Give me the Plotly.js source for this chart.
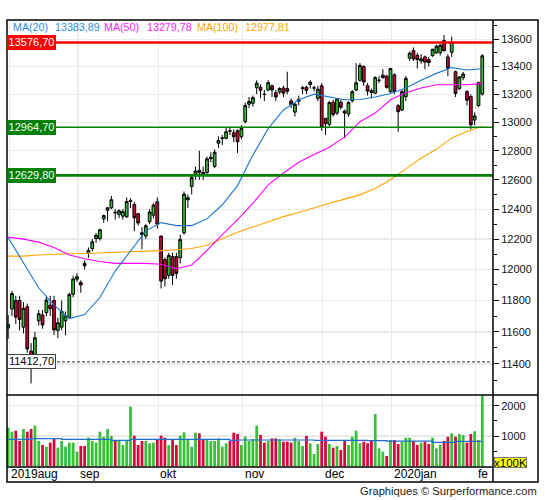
<!DOCTYPE html>
<html><head><meta charset="utf-8">
<script src="https://cdn.plot.ly/plotly-3.0.1.min.js"></script>
<style>html,body{margin:0;padding:0;background:#fff}#chart{width:545px;height:500px}</style>
</head><body><div id="chart"></div>
<script>
// ---- trading days (categories) ----
const tradingDays = {
  "2019-08": [7,8,9,12,13,14,15,16,19,20,21,22,23,26,27,28,29,30],
  "2019-09": [2,3,4,5,6,9,10,11,12,13,16,17,18,19,20,23,24,25,26,27,30],
  "2019-10": [1,2,4,7,8,9,10,11,14,15,16,17,18,21,22,23,24,25,28,29,30,31],
  "2019-11": [1,4,5,6,7,8,11,12,13,14,15,18,19,20,21,22,25,26,27,28,29],
  "2019-12": [2,3,4,5,6,9,10,11,12,13,16,17,18,19,20,23,27,30],
  "2020-01": [2,3,6,7,8,9,10,13,14,15,16,17,20,21,22,23,24,27,28,29,30,31],
  "2020-02": [3,4,5]
};
const monthLabels = ["2019aug","sep","okt","nov","dec","2020jan","fe"];

// ---- OHLC ----
const open = [11625,11745,11800,11800,11630,11760,11480,11450,11670,11707,11722,11770,11800,11610,11630,11670,11693,11840,
 11937,11916,12040,12105,12138,12204,12203,12335,12393,12409,12380,12365,12353,12349,12452,12432,12370,12242,12220,12316,12360,
 12450,12220,12066,11962,12085,12085,12077,12242,12464,12555,12638,12665,12650,12650,12745,12692,12853,12885,12887,12940,12926,12940,
 12898,13005,13128,13135,13247,13250,13200,13230,13260,13210,13215,13245,13240,13152,13072,13150,13240,13250,13270,13245,13170,
 13260,13028,12986,13143,13065,13143,13080,13058,13152,13230,13300,13399,13260,13225,13207,13300,13320,13330,
 13218,13340,13118,13087,13182,13461,13516,13480,13440,13470,13450,13480,13500,13500,13590,13470,13504,13362,13240,13320,13218,13183,
 13016,13118,13201];
const high = [11707,11862,11830,11830,11790,11780,11530,11600,11740,11740,11830,11830,11830,11690,11800,11730,11850,11960,
 11975,11930,12060,12145,12200,12242,12270,12364,12416,12490,12400,12400,12400,12480,12475,12450,12375,12280,12300,12400,12440,
 12480,12225,12080,12110,12110,12110,12230,12520,12500,12640,12690,12800,12690,12760,12790,12810,12900,12910,12960,12970,12950,12950,
 12980,13140,13180,13190,13300,13270,13230,13300,13270,13230,13250,13260,13362,13170,13140,13190,13260,13260,13300,13260,13260,
 13280,13030,13150,13160,13170,13160,13090,13150,13230,13425,13425,13410,13280,13240,13330,13330,13380,13340,
 13390,13350,13130,13230,13330,13510,13540,13500,13490,13480,13470,13530,13560,13570,13632,13490,13620,13370,13330,13360,13230,13200,
 13070,13290,13490];
const low = [11556,11700,11650,11610,11590,11470,11280,11420,11640,11620,11700,11700,11580,11560,11610,11580,11690,11820,
 11920,11850,12000,12077,12120,12175,12190,12308,12320,12400,12330,12340,12330,12340,12408,12253,12290,12132,12200,12300,12340,
 12270,11877,11890,11940,11900,11940,12040,12230,12408,12500,12600,12600,12600,12640,12720,12680,12820,12840,12880,12910,12860,12785,
 12880,12990,13100,13110,13200,13170,13150,13220,13180,13150,13200,13180,13200,13100,13040,13120,13200,13200,13240,13220,13150,
 12940,12911,12970,13040,13050,13090,12887,13040,13140,13220,13290,13260,13190,13170,13200,13280,13310,13240,
 13210,13200,12933,13080,13150,13440,13440,13386,13420,13380,13400,13470,13490,13480,13510,13330,13470,13180,13230,13300,13120,12950,
 12980,13110,13190];
const close = [11645,11845,11694,11679,11750,11493,11413,11563,11715,11644,11802,11747,11612,11658,11730,11701,11838,11939,
 11953,11900,12025,12126,12182,12226,12262,12357,12409,12464,12376,12389,12384,12452,12457,12342,12307,12230,12289,12381,12428,
 12300,11925,11940,12092,11962,11975,12197,12502,12478,12615,12660,12650,12633,12744,12754,12790,12871,12890,12933,12938,12898,12863,
 12957,13118,13147,13175,13279,13228,13198,13283,13230,13180,13241,13207,13221,13127,13128,13163,13246,13227,13287,13245,13236,
 12965,12989,13140,13055,13166,13106,13065,13141,13218,13282,13407,13288,13222,13212,13319,13300,13337,13249,
 13385,13219,13075,13218,13314,13497,13454,13451,13456,13432,13429,13526,13548,13556,13515,13388,13576.7,13205,13324,13345,13157,12982,
 13045,13282,13478];

// ---- volume (x100K) ----
const volume = [1275,1143,1176,835,1231,1143,1231,1341,835,703,648,780,901,615,835,648,780,780,
 483,670,670,945,835,780,1143,978,1231,1000,835,835,703,835,1968,1011,703,835,835,758,780,
 890,1011,945,703,868,703,1011,1121,868,648,1110,1088,890,868,835,835,923,648,758,835,1110,1066,
 703,978,835,901,1341,1033,780,835,923,923,890,813,813,780,945,835,670,1000,758,406,736,
 1143,978,736,615,670,538,835,703,978,1176,758,813,758,868,1726,593,483,340,
 868,868,736,813,945,945,835,703,780,813,736,945,593,703,835,978,1088,978,1066,1033,780,1066,
 1154,868,2343];
const volumeAvg = [890,890,890,890,890,890,915,915,915,915,915,915,915,915,890,890,890,890,
 890,890,890,890,890,890,890,890,890,857,857,857,857,857,890,890,890,890,890,890,890,
 890,890,890,890,890,890,890,890,890,890,890,890,890,890,890,890,890,890,890,857,857,868,
 868,868,868,868,868,868,868,868,868,868,868,868,868,868,868,868,868,868,868,857,857,
 857,857,857,857,857,857,857,857,857,857,857,857,850,850,850,850,850,830,
 830,830,830,830,830,830,830,830,830,830,830,790,790,790,790,790,790,820,820,820,820,820,
 820,820,820];

// ---- moving averages (read every 4 sessions) ----
const maIndex = [0,4,8,12,16,20,24,28,32,36,40,44,48,52,56,60,64,68,72,76,80,84,88,92,96,100,104,108,112,116,120,124];
const ma20  = [12210,12040,11880,11770,11684,11710,11819,11990,12125,12255,12310,12290,12290,12335,12430,12560,12770,12955,13087,13160,13200,13182,13160,13162,13180,13205,13245,13300,13350,13392,13375,13384];
const ma50  = [12213,12200,12180,12145,12095,12070,12052,12040,12040,12040,12035,12005,12030,12125,12230,12330,12440,12565,12646,12720,12775,12825,12895,13004,13065,13160,13210,13245,13268,13270,13268,13278];
const ma100 = [12088,12088,12095,12100,12103,12105,12108,12110,12114,12120,12124,12130,12138,12160,12205,12245,12280,12315,12350,12378,12410,12440,12468,12497,12540,12600,12675,12750,12810,12890,12935,12972];
const maLegend = [["MA(20)","13383,89","#2a8ee0"],["MA(50)","13279,78","#ff22ff"],["MA(100)","12977,81","#ffa500"]];

// ---- levels ----
const levels = [
  {value:13576.70, label:"13576,70", color:"#ff0000", width:2.5, box:"#ff0000", text:"#ffffff"},
  {value:12964.70, label:"12964,70", color:"#008000", width:1.4, box:"#008000", text:"#ffffff"},
  {value:12629.80, label:"12629,80", color:"#008000", width:2.8, box:"#008000", text:"#ffffff"},
  {value:11412.70, label:"11412,70", color:"#333333", width:1, box:"#ffffff", text:"#000000", dash:"3px,2px", border:"#444"}
];
const priceTicks = [11400,11600,11800,12000,12200,12400,12600,12800,13000,13200,13400,13600];
const priceMinor = [11300,11500,11700,11900,12100,12300,12500,12700,12900,13100,13300,13500,13700];
const volTicks = [1000,2000];
const volMinor = [500,1500];

// ---- build ----
const dates = [];
Object.keys(tradingDays).forEach(m => tradingDays[m].forEach(d => dates.push(m + "-" + String(d).padStart(2,"0"))));
const idx = dates.map((d,i) => i);
const monthStart = [];
dates.forEach((d,i) => { if (i === 0 || d.slice(0,7) !== dates[i-1].slice(0,7)) monthStart.push(i); });

const Lp=7, Rp=493, Tp=20, Bp=467;
const px = x => (x - Lp)/(Rp - Lp);
const py = y => (Bp - y)/(Bp - Tp);
const volDomTop = py(395);
const GREEN = "#38c038", RED = "#d4083c";

const traces = [];
traces.push({type:"scatter", mode:"lines", x:maIndex, y:ma100, line:{color:"#ffa500", width:1.1}, hoverinfo:"skip", showlegend:false});
traces.push({type:"scatter", mode:"lines", x:maIndex, y:ma50, line:{color:"#ff00ff", width:1.1}, hoverinfo:"skip", showlegend:false});
traces.push({type:"scatter", mode:"lines", x:maIndex, y:ma20, line:{color:"#1a78d2", width:1.1}, hoverinfo:"skip", showlegend:false});
traces.push({type:"candlestick", x:idx, open:open, high:high, low:low, close:close,
  increasing:{line:{color:"#000", width:1}, fillcolor:"#33bb33"},
  decreasing:{line:{color:"#000", width:1}, fillcolor:"#cc0033"},
  whiskerwidth:0, hoverinfo:"skip", showlegend:false, xaxis:"x", yaxis:"y"});
traces.push({type:"bar", x:idx, y:volume, width:0.72, xaxis:"x", yaxis:"y2",
  marker:{color: idx.map(i => close[i] >= open[i] ? GREEN : RED), line:{width:0}}, hoverinfo:"skip", showlegend:false});
traces.push({type:"scatter", mode:"lines", x:idx, y:volumeAvg, xaxis:"x", yaxis:"y2", line:{color:"#1a6fd0", width:1.2, shape:"hv"}, hoverinfo:"skip", showlegend:false});

const shapes = [];
levels.forEach(l => shapes.push({type:"line", xref:"paper", yref:"y", x0:0, x1:1, y0:l.value, y1:l.value,
  line:{color:l.color, width:l.width, dash:l.dash || "solid"}, layer:"above"}));
const frame = {color:"#000", width:1.5};
shapes.push({type:"rect", xref:"paper", yref:"paper", x0:px(7), x1:px(538), y0:py(482), y1:py(20), line:frame, layer:"above"});
shapes.push({type:"line", xref:"paper", yref:"paper", x0:px(493), x1:px(493), y0:py(482), y1:py(20), line:frame, layer:"above"});
shapes.push({type:"line", xref:"paper", yref:"paper", x0:px(7), x1:px(538), y0:py(395), y1:py(395), line:frame, layer:"above"});
shapes.push({type:"line", xref:"paper", yref:"paper", x0:px(7), x1:px(493), y0:py(467), y1:py(467), line:frame, layer:"above"});

const ann = [];
levels.forEach(l => ann.push({xref:"paper", yref:"y", x:0, y:Math.log10(l.value), xanchor:"left", yanchor:"middle",
  text:l.label, showarrow:false, font:{size:11, color:l.text}, bgcolor:l.box,
  bordercolor:l.border || l.box, borderwidth:1, borderpad:0.5, width:46, height:11.5}));
const legendX = [[12.7,55],[104.3,146.7],[196.7,245]];
maLegend.forEach((m,k) => {
  ann.push({xref:"paper", yref:"paper", x:px(legendX[k][0]), y:py(26.7), xanchor:"left", yanchor:"middle", xshift:-2,
    text:m[0], showarrow:false, font:{size:10.7, color:m[2]}});
  ann.push({xref:"paper", yref:"paper", x:px(legendX[k][1]), y:py(26.7), xanchor:"left", yanchor:"middle", xshift:-2,
    text:m[1], showarrow:false, font:{size:10.7, color:m[2]}});
});
monthStart.forEach((i,k) => ann.push({xref:"x", yref:"paper", x:i+0.3, y:py(474.3), xanchor:"left", yanchor:"middle",
  text:monthLabels[k], showarrow:false, font:{size:12, color:"#000"}}));
ann.push({xref:"paper", yref:"paper", x:px(537), y:py(491), xanchor:"right", yanchor:"middle", xshift:2,
  text:"Graphiques © Surperformance.com", showarrow:false, font:{size:11.2, color:"#222"}});
ann.push({xref:"paper", yref:"paper", x:px(494), y:py(462.3), xanchor:"left", yanchor:"middle",
  text:"x100K", showarrow:false, font:{size:11.5, color:"#000"}, bgcolor:"#ffff00", bordercolor:"#777", borderwidth:1, borderpad:0, width:31, height:9});

const layout = {
  width:545, height:500, margin:{l:7, r:52, t:20, b:33}, paper_bgcolor:"#fff", plot_bgcolor:"#fff",
  font:{family:"Liberation Sans, Arial, sans-serif", color:"#000"},
  showlegend:false, boxgap:0.15, boxgroupgap:0.15, bargap:0.3,
  xaxis:{range:[-0.3,126.8], anchor:"y2", tickmode:"array", tickvals:monthStart.map(i => i+0.3), showticklabels:false, ticks:"",
    showgrid:true, gridcolor:"#ebebeb", gridwidth:1.3, zeroline:false, showline:false, rangeslider:{visible:false}, fixedrange:true},
  yaxis:{type:"log", domain:[volDomTop,1], range:[Math.log10(11209), Math.log10(13743)], side:"right", anchor:"x",
    tickmode:"array", tickvals:priceTicks, ticktext:priceTicks.map(String), ticks:"outside", ticklen:5, tickwidth:1, tickcolor:"#000",
    minor:{tickmode:"array", tickvals:priceMinor, ticks:"outside", ticklen:3, tickcolor:"#000", tickwidth:1, showgrid:false},
    tickfont:{size:11, color:"#111"}, showgrid:true, gridcolor:"#ebebeb", gridwidth:1.3, zeroline:false, showline:false, fixedrange:true},
  yaxis2:{domain:[0,volDomTop], range:[-23,2353], side:"right", anchor:"x",
    tickmode:"array", tickvals:volTicks, ticktext:volTicks.map(String), ticks:"outside", ticklen:5, tickwidth:1, tickcolor:"#000",
    minor:{tickmode:"array", tickvals:volMinor, ticks:"outside", ticklen:3, tickcolor:"#000", tickwidth:1, showgrid:false},
    tickfont:{size:11, color:"#111"}, showgrid:true, gridcolor:"#ebebeb", gridwidth:1.3, zeroline:false, showline:false, fixedrange:true},
  shapes:shapes, annotations:ann
};
Plotly.newPlot("chart", traces, layout, {displayModeBar:false, staticPlot:true});
</script></body></html>
